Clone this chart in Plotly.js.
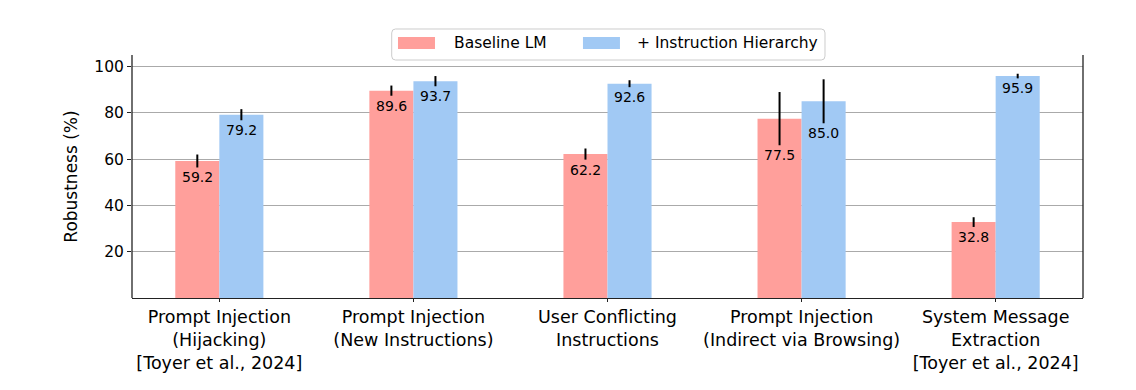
<!DOCTYPE html>
<html>
<head>
<meta charset="utf-8">
<script src="https://cdn.plot.ly/plotly-3.0.1.min.js"></script>
<style>html,body{margin:0;padding:0;background:#fff}#chart{width:1136px;height:390px}</style>
</head>
<body>
<div id="chart"></div>
<script>
// ---- data ----
const categories = [
  "Prompt Injection<br>(Hijacking)<br>[Toyer et al., 2024]",
  "Prompt Injection<br>(New Instructions)",
  "User Conflicting<br>Instructions",
  "Prompt Injection<br>(Indirect via Browsing)",
  "System Message<br>Extraction<br>[Toyer et al., 2024]"
];
const seriesNames = ["Baseline LM", "+ Instruction Hierarchy"];
const baselineValues = [59.2, 89.6, 62.2, 77.5, 32.8];
const baselineErrors = [2.8, 2.2, 2.4, 11.5, 2.1];
const hierarchyValues = [79.2, 93.7, 92.6, 85.0, 95.9];
const hierarchyErrors = [2.4, 2.2, 1.5, 9.5, 1.0];
const yTicks = [20, 40, 60, 80, 100];

// ---- styling ----
const colors = ["#FF9F9B", "#A1C9F4"];
const FONT = "DejaVu Sans, sans-serif";
const barW = 0.227;
const idx = categories.map((_, i) => i);
const offsets = [-barW / 2, barW / 2];

function barTrace(vals, errs, k) {
  return {
    type: "bar",
    x: idx.map(i => i + offsets[k]),
    y: vals,
    width: barW,
    name: seriesNames[k],
    marker: {color: colors[k], line: {width: 0}},
    error_y: {type: "data", array: errs, visible: true, color: "#000", thickness: 2, width: 0},
    showlegend: false,
    hoverinfo: "skip"
  };
}
function labelAnns(vals, errs, k) {
  return vals.map((v, i) => ({
    x: i + offsets[k], y: v - errs[i], xref: "x", yref: "y",
    xanchor: "center", yanchor: "top", yshift: 0,
    text: v.toFixed(1), showarrow: false,
    font: {family: FONT, size: 14, color: "#000"}
  }));
}

const data = [
  barTrace(baselineValues, baselineErrors, 0),
  barTrace(hierarchyValues, hierarchyErrors, 1)
];

// manual legend (paper coords)
const bx0 = 0.2731, bx1 = 0.7287, by0 = 0.9794, by1 = 1.107, rx = 0.004, ry = 0.016;
const boxPath = `M${bx0+rx},${by1} L${bx1-rx},${by1} Q${bx1},${by1} ${bx1},${by1-ry} L${bx1},${by0+ry} Q${bx1},${by0} ${bx1-rx},${by0} L${bx0+rx},${by0} Q${bx0},${by0} ${bx0},${by0+ry} L${bx0},${by1-ry} Q${bx0},${by1} ${bx0+rx},${by1} Z`;
const swatchX = [[0.2797, 0.3186], [0.4742, 0.5131]];
const labelX = [0.3362, 0.5289];

const shapes = [
  {type: "path", xref: "paper", yref: "paper", path: boxPath,
   line: {color: "#cccccc", width: 1}, fillcolor: "rgba(255,255,255,0.8)", layer: "above"},
  ...swatchX.map((sx, k) => ({type: "rect", xref: "paper", yref: "paper",
    x0: sx[0], x1: sx[1], y0: 1.0247, y1: 1.0741,
    line: {width: 0}, fillcolor: colors[k], layer: "above"})),
  {type: "line", xref: "paper", yref: "paper", x0: 0, x1: 0, y0: 0, y1: 1, line: {color: "#222", width: 1.3}},
  {type: "line", xref: "paper", yref: "paper", x0: 1, x1: 1, y0: 0, y1: 1, line: {color: "#222", width: 1.3}}
];
const legendAnns = seriesNames.map((n, k) => ({
  xref: "paper", yref: "paper", x: labelX[k], y: 1.048,
  xanchor: "left", yanchor: "middle", text: n, showarrow: false,
  font: {family: FONT, size: 15.5, color: "#000"}
}));

const layout = {
  width: 1136, height: 390,
  margin: {l: 132, r: 53, t: 55, b: 92, pad: 0},
  paper_bgcolor: "#fff", plot_bgcolor: "#fff",
  barmode: "overlay",
  showlegend: false,
  font: {family: FONT, color: "#000"},
  xaxis: {
    range: [-0.45, 4.45],
    tickmode: "array", tickvals: idx, ticktext: categories,
    ticks: "outside", ticklen: 3, tickcolor: "#222", tickwidth: 1,
    tickfont: {family: FONT, size: 17.5, color: "#000"},
    showgrid: false, zeroline: false,
    showline: true, linecolor: "#222", linewidth: 1.3, mirror: false
  },
  yaxis: {
    range: [0, 105],
    tickmode: "array", tickvals: yTicks,
    ticks: "outside", ticklen: 4, tickcolor: "#222", tickwidth: 1,
    tickfont: {family: FONT, size: 15.5, color: "#000"},
    showgrid: true, gridcolor: "#aaaaaa", gridwidth: 1,
    zeroline: false, showline: false,
    title: {text: "Robustness (%)", font: {family: FONT, size: 17, color: "#000"}, standoff: 12}
  },
  shapes: shapes,
  annotations: [
    ...labelAnns(baselineValues, baselineErrors, 0),
    ...labelAnns(hierarchyValues, hierarchyErrors, 1),
    ...legendAnns
  ]
};

Plotly.newPlot("chart", data, layout, {displayModeBar: false, staticPlot: true});
</script>
</body>
</html>
